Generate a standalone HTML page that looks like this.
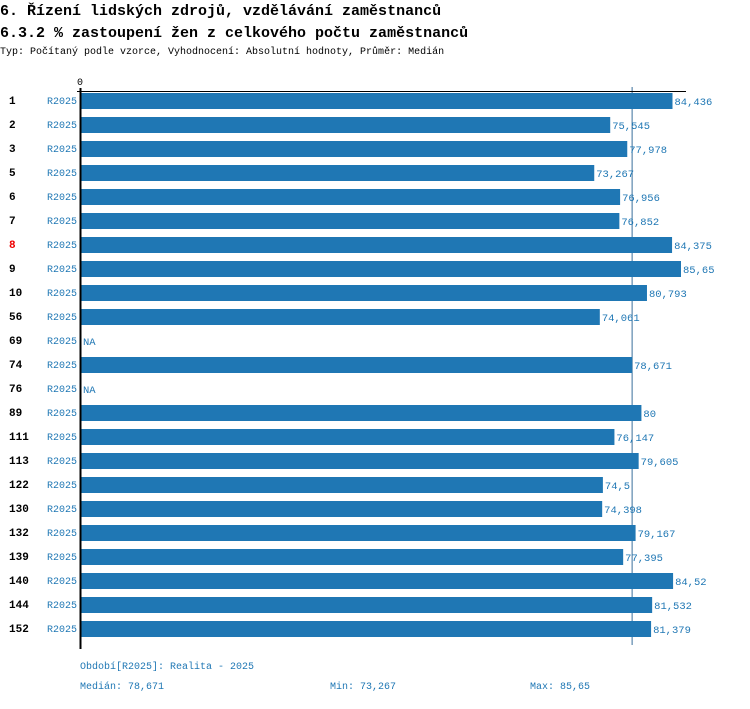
<!DOCTYPE html>
<html><head><meta charset="utf-8"><style>
body{margin:0;background:#fff;width:750px;height:704px;overflow:hidden;font-family:"Liberation Mono",monospace;}
svg text{font-family:"Liberation Mono",monospace;}
</style></head><body>
<svg width="750" height="704">
<text x="0" y="15" font-size="15" font-weight="bold">6. Řízení lidských zdrojů, vzdělávání zaměstnanců</text>
<text x="0" y="37" font-size="15" font-weight="bold">6.3.2 % zastoupení žen z celkového počtu zaměstnanců</text>
<text x="0" y="54" font-size="10">Typ: Počítaný podle vzorce, Vyhodnocení: Absolutní hodnoty, Průměr: Medián</text>
<g id="plot"></g>
<text x="80" y="669" font-size="10" fill="#1f77b4">Období[R2025]: Realita - 2025</text>
<text x="80" y="689" font-size="10" fill="#1f77b4">Medián: 78,671</text>
<text x="330" y="689" font-size="10" fill="#1f77b4">Min: 73,267</text>
<text x="530" y="689" font-size="10" fill="#1f77b4">Max: 85,65</text>
</svg>
<script>
const categories=["1","2","3","5","6","7","8","9","10","56","69","74","76","89","111","113","122","130","132","139","140","144","152"];
const values=[84.436,75.545,77.978,73.267,76.956,76.852,84.375,85.65,80.793,74.061,null,78.671,null,80,76.147,79.605,74.5,74.398,79.167,77.395,84.52,81.532,81.379];
const valueLabels=["84,436","75,545","77,978","73,267","76,956","76,852","84,375","85,65","80,793","74,061","NA","78,671","NA","80","76,147","79,605","74,5","74,398","79,167","77,395","84,52","81,532","81,379"];
const highlighted=["8"];
const medianValue=78.671;
const NS="http://www.w3.org/2000/svg";
const g=document.getElementById('plot');
const x0=81, pxPerUnit=600/85.65;
function xs(v){return x0+v*pxPerUnit;}
function ys(i){return 93+i*24;}
function mk(t,a){const e=document.createElementNS(NS,t);for(const k in a)e.setAttribute(k,a[k]);g.appendChild(e);return e;}
const yEnd=ys(categories.length-1)+24;
const m=mk('line',{x1:xs(medianValue),x2:xs(medianValue),y1:87,y2:yEnd,stroke:'#3a6f9a','stroke-width':1});


categories.forEach((c,i)=>{
  const y=ys(i);
  const l=mk('text',{x:9,y:y+11,'font-size':11,'font-weight':'bold',fill:highlighted.includes(c)?'#e00':'#000'});
  l.textContent=c;
  
  
  const s=mk('text',{x:47,y:y+11,'font-size':10,fill:'#1f77b4'});
  s.textContent='R2025';
  
  
  const v=values[i];
  let end=x0;
  if(v!==null){
    const b=mk('rect',{x:x0,y:y,width:xs(v)-x0,height:16,fill:'#1f77b4'});
    
    
    end=xs(v);
  }
  const t=mk('text',{x:end+2,y:y+12,'font-size':10.5,fill:'#1f77b4'});
  t.textContent=valueLabels[i];
  
  
});
const ax=mk('line',{x1:80.5,x2:80.5,y1:88,y2:yEnd+4,stroke:'#000','stroke-width':2});


const tk=mk('line',{x1:77,x2:686,y1:91.5,y2:91.5,stroke:'#000','stroke-width':1});


const z=mk('text',{x:77,y:85,'font-size':10});
z.textContent='0';


</script>
</body></html>
